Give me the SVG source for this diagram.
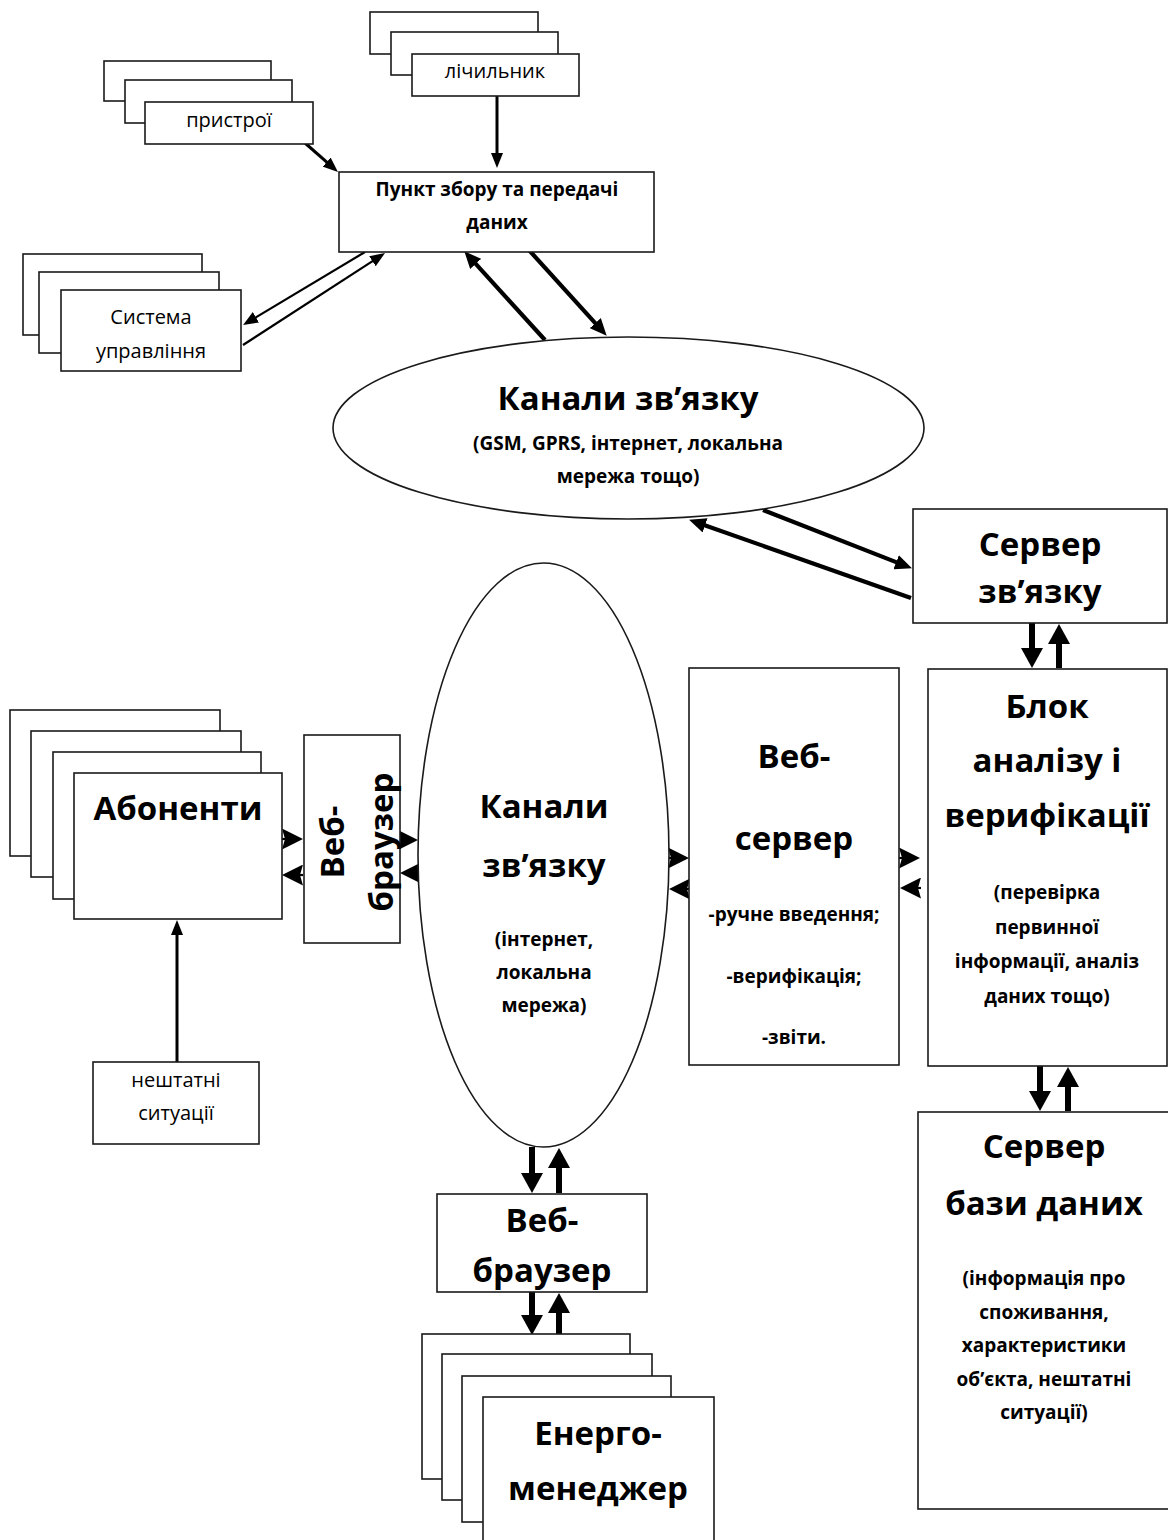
<svg xmlns="http://www.w3.org/2000/svg" width="1168" height="1540" viewBox="0 0 1168 1540">
<style>
.box{fill:#fff;stroke:#1a1a1a;stroke-width:1.6}
.ell{fill:#fff;stroke:#1a1a1a;stroke-width:1.6}
text{font-family:"Open Sans","Noto Sans",sans-serif;fill:#000;text-anchor:middle}
.sm{font-size:20px}
.sb{font-size:19px;font-weight:bold}
.big{font-size:33px;font-weight:bold}
.c{stroke:#000;fill:none}
.w2{stroke-width:2.2}
.w3{stroke-width:3}
.w4{stroke-width:4.2}
.w6{stroke-width:6}
</style>
<defs>
<marker id="thin" markerUnits="userSpaceOnUse" markerWidth="15" markerHeight="12" refX="2" refY="6" orient="auto"><path d="M0,0 L15,6 L0,12 z" fill="#000"/></marker>
<marker id="med" markerUnits="userSpaceOnUse" markerWidth="17" markerHeight="15" refX="2" refY="7.5" orient="auto"><path d="M0,0 L17,7.5 L0,15 z" fill="#000"/></marker>
<marker id="big" markerUnits="userSpaceOnUse" markerWidth="20" markerHeight="22" refX="2" refY="11" orient="auto"><path d="M0,0 L20,11 L0,22 z" fill="#000"/></marker>
<marker id="st" markerUnits="userSpaceOnUse" markerWidth="21" markerHeight="21" refX="4" refY="10.5" orient="auto"><path d="M0,0 L21,10.5 L0,21 L3,10.5 z" fill="#000"/></marker>
</defs>

<g id="connectors">
<line class="c w3" x1="305" y1="143" x2="328.2" y2="163.4" marker-end="url(#thin)"/>
<line class="c w3" x1="497" y1="96" x2="497" y2="155" marker-end="url(#thin)"/>
<line class="c w2" x1="365" y1="252" x2="254.2" y2="318.3" marker-end="url(#thin)"/>
<line class="c w2" x1="243" y1="345" x2="374.1" y2="260.1" marker-end="url(#thin)"/>
<line class="c w4" x1="545" y1="340" x2="474.4" y2="262.4" marker-end="url(#med)"/>
<line class="c w4" x1="528" y1="249" x2="596.6" y2="324.6" marker-end="url(#med)"/>
<line class="c w4" x1="763" y1="510" x2="898" y2="562.9" marker-end="url(#med)"/>
<line class="c w4" x1="911" y1="598" x2="703.2" y2="524.7" marker-end="url(#med)"/>
<line class="c w6" x1="1032" y1="623" x2="1032" y2="650" marker-end="url(#big)"/>
<line class="c w6" x1="1059" y1="668" x2="1059" y2="642" marker-end="url(#big)"/>
<line class="c w6" x1="1040" y1="1066" x2="1040" y2="1093" marker-end="url(#big)"/>
<line class="c w6" x1="1068" y1="1111" x2="1068" y2="1085" marker-end="url(#big)"/>
<line class="c w6" x1="532" y1="1147" x2="532" y2="1175" marker-end="url(#big)"/>
<line class="c w6" x1="559" y1="1193" x2="559" y2="1166" marker-end="url(#big)"/>
<line class="c w6" x1="532" y1="1292" x2="532" y2="1317" marker-end="url(#big)"/>
<line class="c w6" x1="559" y1="1335" x2="559" y2="1311" marker-end="url(#big)"/>
<line class="c w3" x1="177" y1="1062" x2="177" y2="933" marker-end="url(#thin)"/>
<line class="c w2" x1="282" y1="839" x2="286" y2="839" marker-end="url(#st)"/>
<line class="c w2" x1="303" y1="875" x2="299" y2="875" marker-end="url(#st)"/>
<line class="c w2" x1="400" y1="840" x2="401" y2="840" marker-end="url(#st)"/>
<line class="c w2" x1="420" y1="873" x2="417" y2="873" marker-end="url(#st)"/>
<line class="c w2" x1="669" y1="858" x2="672" y2="858" marker-end="url(#st)"/>
<line class="c w2" x1="689" y1="889" x2="686" y2="889" marker-end="url(#st)"/>
<line class="c w2" x1="899" y1="858" x2="903" y2="858" marker-end="url(#st)"/>
<line class="c w2" x1="921" y1="888" x2="917" y2="888" marker-end="url(#st)"/>
</g>

<g id="counter">
<rect class="box" x="370" y="12" width="168" height="42"/>
<rect class="box" x="391" y="32" width="167" height="43"/>
<rect class="box" x="412" y="54" width="167" height="42"/>
<text class="sm" x="495" y="78">лічильник</text>
</g>

<g id="devices">
<rect class="box" x="104" y="61" width="167" height="40"/>
<rect class="box" x="125" y="80" width="167" height="43"/>
<rect class="box" x="145" y="102" width="168" height="42"/>
<text class="sm" x="229" y="127">пристрої</text>
</g>

<g id="collect-point">
<rect class="box" x="339" y="172" width="315" height="80"/>
<text class="sb" x="497" y="196">Пункт збору та передачі</text>
<text class="sb" x="497" y="229">даних</text>
</g>

<g id="control-system">
<rect class="box" x="23" y="254" width="179" height="81"/>
<rect class="box" x="39" y="272" width="180" height="81"/>
<rect class="box" x="61" y="290" width="180" height="81"/>
<text class="sm" x="151" y="324">Система</text>
<text class="sm" x="151" y="358">управління</text>
</g>

<g id="channels-top">
<ellipse class="ell" cx="628.5" cy="428" rx="295.5" ry="91"/>
<text class="big" x="628" y="410">Канали зв’язку</text>
<text class="sb" x="628" y="450">(GSM, GPRS, інтернет, локальна</text>
<text class="sb" x="628" y="483">мережа тощо)</text>
</g>

<g id="comm-server">
<rect class="box" x="913" y="509" width="254" height="114"/>
<text class="big" x="1040" y="556">Сервер</text>
<text class="big" x="1040" y="603">зв’язку</text>
</g>

<g id="channels-mid">
<ellipse class="ell" cx="543.5" cy="855" rx="125.5" ry="292"/>
<text class="big" x="544" y="818">Канали</text>
<text class="big" x="544" y="877">зв’язку</text>
<text class="sb" x="544" y="946">(інтернет,</text>
<text class="sb" x="544" y="979">локальна</text>
<text class="sb" x="544" y="1012">мережа)</text>
</g>

<g id="subscribers">
<rect class="box" x="10" y="710" width="210" height="146"/>
<rect class="box" x="31" y="731" width="210" height="146"/>
<rect class="box" x="53" y="752" width="208" height="147"/>
<rect class="box" x="74" y="773" width="208" height="146"/>
<text class="big" x="178" y="820">Абоненти</text>
</g>

<g id="browser-left">
<rect class="box" x="304" y="735" width="96" height="208"/>
<text class="big" transform="translate(344,842) rotate(-90)" x="0" y="0">Веб-</text>
<text class="big" transform="translate(393,842) rotate(-90)" x="0" y="0">браузер</text>
</g>

<g id="abnormal">
<rect class="box" x="93" y="1062" width="166" height="82"/>
<text class="sm" x="176" y="1087">нештатні</text>
<text class="sm" x="176" y="1120">ситуації</text>
</g>

<g id="web-server">
<rect class="box" x="689" y="668" width="210" height="397"/>
<text class="big" x="794" y="768">Веб-</text>
<text class="big" x="794" y="850">сервер</text>
<text class="sb" x="794" y="921">-ручне введення;</text>
<text class="sb" x="794" y="983">-верифікація;</text>
<text class="sb" x="794" y="1044">-звіти.</text>
</g>

<g id="analysis">
<rect class="box" x="928" y="669" width="239" height="397"/>
<text class="big" x="1047" y="718">Блок</text>
<text class="big" x="1047" y="772">аналізу і</text>
<text class="big" x="1047" y="827">верифікації</text>
<text class="sb" x="1047" y="899">(перевірка</text>
<text class="sb" x="1047" y="934">первинної</text>
<text class="sb" x="1047" y="968">інформації, аналіз</text>
<text class="sb" x="1047" y="1003">даних тощо)</text>
</g>

<g id="db-server">
<rect class="box" x="918" y="1112" width="252" height="397"/>
<text class="big" x="1044" y="1158">Сервер</text>
<text class="big" x="1044" y="1215">бази даних</text>
<text class="sb" x="1044" y="1285">(інформація про</text>
<text class="sb" x="1044" y="1319">споживання,</text>
<text class="sb" x="1044" y="1352">характеристики</text>
<text class="sb" x="1044" y="1386">об’єкта, нештатні</text>
<text class="sb" x="1044" y="1419">ситуації)</text>
</g>

<g id="browser-bottom">
<rect class="box" x="437" y="1194" width="210" height="98"/>
<text class="big" x="542" y="1232">Веб-</text>
<text class="big" x="542" y="1282">браузер</text>
</g>

<g id="energy-manager">
<rect class="box" x="422" y="1334" width="208" height="145"/>
<rect class="box" x="442" y="1354" width="210" height="146"/>
<rect class="box" x="462" y="1376" width="209" height="146"/>
<rect class="box" x="483" y="1397" width="231" height="150"/>
<text class="big" x="598" y="1445">Енерго-</text>
<text class="big" x="598" y="1500">менеджер</text>
</g>
</svg>
